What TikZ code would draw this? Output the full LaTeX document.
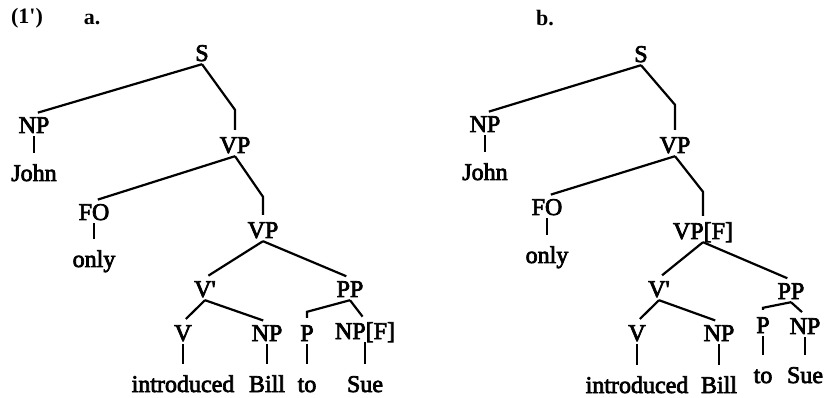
\documentclass[tikz,border=0pt]{standalone}
\usepackage{fontspec}
\setmainfont{Liberation Serif}[UprightFeatures={FakeBold=3}]
\usetikzlibrary{positioning}

\begin{document}
\begin{tikzpicture}[
    x=1pt, y=-1pt,
    on grid,
    every node/.style={font=\fontsize{24}{28}\selectfont},
    every edge/.style={draw, line width=2.2pt, shorten >=4pt},
    jog/.style={to path={-- ([yshift=#1]\tikztotarget) -- (\tikztotarget)}},
    cat/.style={text height=16pt, text depth=0pt, inner xsep=1pt, inner ysep=3pt},
    word/.style={text height=16pt, text depth=0pt, inner xsep=1pt, inner ysep=8pt},
    hdr/.style={font=\fontsize{22}{26}\selectfont\bfseries, inner sep=0pt}]
    \useasboundingbox (0,0) rectangle (825,398);

    \node[hdr] (ex) at (27,18) {(1\textquotesingle)};
    \node[hdr] (ha) at (92,19) {a.};
    \node[hdr] (hb) at (545,18) {b.};

    % tree a
    \node[cat] (aS) at (202,53) {S};
    \node[cat] (aNP) [below left=72pt and 168pt of aS] {NP};
    \node[word] (aJohn) [below=48pt of aNP] {John};
    \node[cat] (aVP) [below right=92pt and 33pt of aS] {VP};
    \node[cat] (aFO) [below left=67pt and 141pt of aVP] {FO};
    \node[word] (aOnly) [below=47pt of aFO] {only};
    \node[cat] (aVPlow) [below right=85pt and 28pt of aVP] {VP};
    \node[cat] (aVbar) [below left=59pt and 58pt of aVPlow] {V\textquotesingle};
    \node[cat] (aPP) [below right=59pt and 87pt of aVPlow] {PP};
    \node[cat] (aV) [below left=44pt and 22pt of aVbar] {V};
    \node[cat] (aNPobj) [below right=44pt and 62pt of aVbar] {NP};
    \node[cat] (aP) [below left=44pt and 43pt of aPP] {P};
    \node[cat] (aNPfoc) [below right=42pt and 15pt of aPP] {NP[F]};
    \node[word] (aIntro) [below=51pt of aV] {introduced};
    \node[word] (aBill) [below=51pt of aNPobj] {Bill};
    \node[word] (aTo) [below=51pt of aP] {to};
    \node[word] (aSue) [below=53pt of aNPfoc] {Sue};

    \path (aS.south) edge (aNP.north)
          (aS.south) edge [jog=24pt] (aVP.north)
          (aNP.south) edge (aJohn.north)
          (aVP.south) edge (aFO.north)
          (aVP.south) edge [jog=22pt] (aVPlow.north)
          (aFO.south) edge (aOnly.north)
          (aVPlow.south) edge (aVbar.north)
          (aVPlow.south) edge (aPP.north)
          (aVbar.south) edge (aV.north)
          (aVbar.south) edge (aNPobj.north)
          (aPP.south) edge [jog=10pt] (aP.north)
          (aPP.south) edge (aNPfoc.north)
          (aV.south) edge (aIntro.north)
          (aNPobj.south) edge (aBill.north)
          (aP.south) edge (aTo.north)
          (aNPfoc.south) edge (aSue.north);

    % tree b
    \node[cat] (bS) at (641,54) {S};
    \node[cat] (bNP) [below left=70pt and 156pt of bS] {NP};
    \node[word] (bJohn) [below=48pt of bNP] {John};
    \node[cat] (bVP) [below right=91pt and 34pt of bS] {VP};
    \node[cat] (bFO) [below left=62pt and 128pt of bVP] {FO};
    \node[word] (bOnly) [below=48pt of bFO] {only};
    \node[cat] (bVPfoc) [below right=86pt and 28pt of bVP] {VP[F]};
    \node[cat] (bVbar) [below left=58pt and 44pt of bVPfoc] {V\textquotesingle};
    \node[cat] (bPP) [below right=60pt and 88pt of bVPfoc] {PP};
    \node[cat] (bV) [below left=44pt and 22pt of bVbar] {V};
    \node[cat] (bNPobj) [below right=44pt and 60pt of bVbar] {NP};
    \node[cat] (bP) [below left=34pt and 28pt of bPP] {P};
    \node[cat] (bNPto) [below right=35pt and 14pt of bPP] {NP};
    \node[word] (bIntro) [below=52pt of bV] {introduced};
    \node[word] (bBill) [below=52pt of bNPobj] {Bill};
    \node[word] (bTo) [below=50pt of bP] {to};
    \node[word] (bSue) [below=49pt of bNPto] {Sue};

    \path (bS.south) edge (bNP.north)
          (bS.south) edge [jog=29pt] (bVP.north)
          (bNP.south) edge (bJohn.north)
          (bVP.south) edge (bFO.north)
          (bVP.south) edge [jog=28pt] (bVPfoc.north)
          (bFO.south) edge (bOnly.north)
          (bVPfoc.south) edge (bVbar.north)
          (bVPfoc.south) edge (bPP.north)
          (bVbar.south) edge (bV.north)
          (bVbar.south) edge (bNPobj.north)
          (bPP.south) edge [jog=6pt] (bP.north)
          (bPP.south) edge (bNPto.north)
          (bV.south) edge (bIntro.north)
          (bNPobj.south) edge (bBill.north)
          (bP.south) edge (bTo.north)
          (bNPto.south) edge (bSue.north);
\end{tikzpicture}
\end{document}
